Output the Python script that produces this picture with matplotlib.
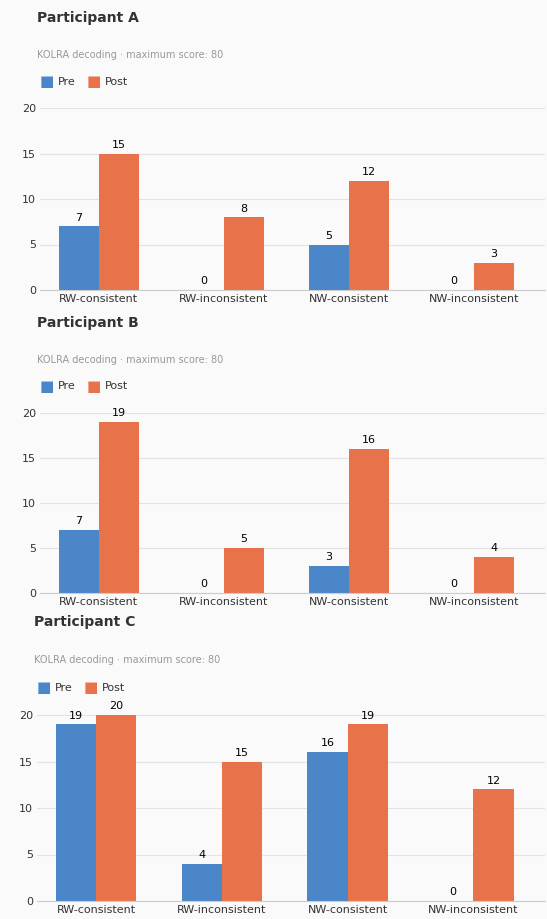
import matplotlib.pyplot as plt
import numpy as np

categories = ["RW-consistent", "RW-inconsistent", "NW-consistent", "NW-inconsistent"]
participants = ["Participant A", "Participant B", "Participant C"]
pre_scores = [[7, 0, 5, 0], [7, 0, 3, 0], [19, 4, 16, 0]]
post_scores = [[15, 8, 12, 3], [19, 5, 16, 4], [20, 15, 19, 12]]
yticks = [0, 5, 10, 15, 20]

W, H = 547, 919
BLUE = "#4a86c8"
ORANGE = "#e8734a"
BG = "#fafafa"

fig = plt.figure(figsize=(W / 100, H / 100), dpi=100, facecolor=BG)

# pixel layout per panel: (title_y, subtitle_y, legend_y, top_of_plot, zero_line, left_x)
layout = [(18, 55, 82, 108, 290, 40), (323, 360, 386, 413, 593, 40), (622, 660, 688, 715, 901, 37)]

for name, pre, post, (ty, sy, ly, top, bot, lx) in zip(participants, pre_scores, post_scores, layout):
    ax = fig.add_axes([lx / W, 1 - bot / H, (545 - lx) / W, (bot - top) / H])
    ax.set_facecolor(BG)
    x = np.arange(len(categories))
    w = 0.32
    ax.bar(x - w / 2, pre, w, color=BLUE)
    ax.bar(x + w / 2, post, w, color=ORANGE)
    for xi, v in zip(x - w / 2, pre):
        ax.text(xi, v + 0.4, str(v), ha="center", va="bottom", fontsize=8)
    for xi, v in zip(x + w / 2, post):
        ax.text(xi, v + 0.4, str(v), ha="center", va="bottom", fontsize=8)
    ax.set_xlim(-0.47, 3.57)
    ax.set_ylim(0, 20)
    ax.set_yticks(yticks)
    ax.set_xticks(x)
    ax.set_xticklabels(categories)
    ax.tick_params(length=0, labelsize=8, colors="#333333", pad=3)
    ax.grid(axis="y", color="#e3e3e3", linewidth=0.8)
    ax.set_axisbelow(True)
    for s in ["top", "right", "left"]:
        ax.spines[s].set_visible(False)
    ax.spines["bottom"].set_color("#cccccc")

    fig.text((lx - 3) / W, 1 - ty / H, name, fontsize=10, fontweight="bold", color="#333333", va="center")
    fig.text((lx - 3) / W, 1 - sy / H, "KOLRA decoding \u00b7 maximum score: 80", fontsize=7, color="#999999", va="center")
    fig.text(lx / W, 1 - ly / H, "\u25a0", fontsize=11, color=BLUE, va="center")
    fig.text((lx + 18) / W, 1 - ly / H, "Pre", fontsize=8, color="#333333", va="center")
    fig.text((lx + 47) / W, 1 - ly / H, "\u25a0", fontsize=11, color=ORANGE, va="center")
    fig.text((lx + 65) / W, 1 - ly / H, "Post", fontsize=8, color="#333333", va="center")

fig.savefig("out.png", dpi=100, facecolor=BG)
